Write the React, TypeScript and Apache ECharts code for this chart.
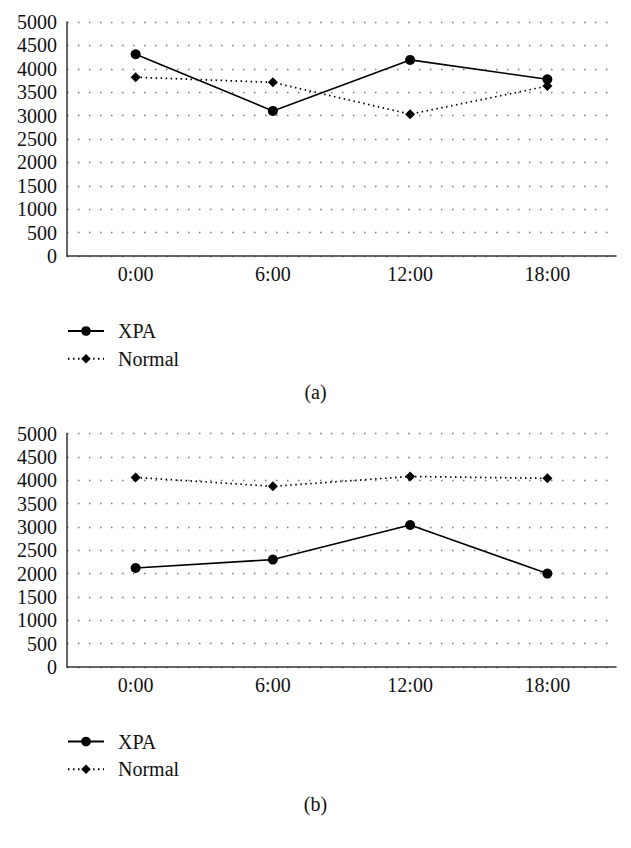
import React, { useEffect, useRef } from "react";
import * as echarts from "echarts";

const categories = ["0:00", "6:00", "12:00", "18:00"];
const xpaA = [4310, 3100, 4190, 3775];
const normalA = [3820, 3710, 3030, 3630];
const xpaB = [2120, 2300, 3040, 2000];
const normalB = [4060, 3870, 4080, 4040];
const seriesNames = ["XPA", "Normal"];
const panelLabels = ["(a)", "(b)"];

const FONT = "'Liberation Serif', 'DejaVu Serif', 'Times New Roman', serif";

export default function App() {
  const ref = useRef<HTMLDivElement>(null);
  useEffect(() => {
    if (!ref.current) return;
    const chart = echarts.init(ref.current, null, { renderer: "svg" });
    const grids = [
      { left: 67, top: 22, width: 549, height: 234 },
      { left: 67, top: 433.5, width: 549, height: 233.5 },
    ];
    const xAxes = grids.map((_, i) => ({
      type: "category",
      gridIndex: i,
      data: categories,
      boundaryGap: true,
      axisLine: { show: true, lineStyle: { color: "#333", width: 1.5 } },
      axisTick: { show: false },
      axisLabel: { color: "#111", fontFamily: FONT, fontSize: 20, margin: 8 },
      splitLine: { show: false },
    }));
    const yAxes = grids.map((_, i) => ({
      type: "value",
      gridIndex: i,
      min: 0,
      max: 5000,
      interval: 500,
      axisLine: { show: true, lineStyle: { color: "#333", width: 1.5 } },
      axisTick: { show: false },
      axisLabel: {
        color: "#111",
        fontFamily: FONT,
        fontSize: 20,
        margin: 10,
        formatter: (v: number) => String(v),
      },
      splitLine: {
        show: true,
        lineStyle: { color: "#777", width: 1.3, type: [1.5, 9.5] },
      },
    }));
    const mk = (name: string, data: number[], idx: number, dotted: boolean) => ({
      type: "line",
      name,
      xAxisIndex: idx,
      yAxisIndex: idx,
      data,
      symbol: dotted ? "diamond" : "circle",
      symbolSize: dotted ? 10 : 10,
      itemStyle: { color: "#000" },
      lineStyle: dotted
        ? { color: "#000", width: 1.7, type: [1.5, 3.5] }
        : { color: "#000", width: 1.6, type: "solid" },
      z: dotted ? 2 : 3,
    });
    const legendBase = {
      orient: "vertical",
      left: 67,
      padding: 0,
      itemWidth: 36,
      itemHeight: 12,
      itemGap: 7.7,
      data: seriesNames,
      selectedMode: false,
      textStyle: {
        fontFamily: FONT,
        fontSize: 20,
        color: "#111",
        lineHeight: 20,
        padding: [0, 0, 0, 9],
      },
    };
    chart.setOption({
      animation: false,
      backgroundColor: "#fff",
      grid: grids,
      xAxis: xAxes,
      yAxis: yAxes,
      legend: [
        { ...legendBase, top: 321 },
        { ...legendBase, top: 731.5 },
      ],
      title: [
        {
          text: panelLabels[0],
          left: "center",
          top: 382,
          padding: 0,
          textStyle: { fontFamily: FONT, fontSize: 20, fontWeight: "normal", color: "#111" },
        },
        {
          text: panelLabels[1],
          left: "center",
          top: 794,
          padding: 0,
          textStyle: { fontFamily: FONT, fontSize: 20, fontWeight: "normal", color: "#111" },
        },
      ],
      series: [
        mk(seriesNames[0], xpaA, 0, false),
        mk(seriesNames[1], normalA, 0, true),
        mk(seriesNames[0], xpaB, 1, false),
        mk(seriesNames[1], normalB, 1, true),
      ],
    });
    return () => chart.dispose();
  }, []);
  return <div ref={ref} style={{ width: 631, height: 848, position: "absolute", left: 0, top: 0 }} />;
}
